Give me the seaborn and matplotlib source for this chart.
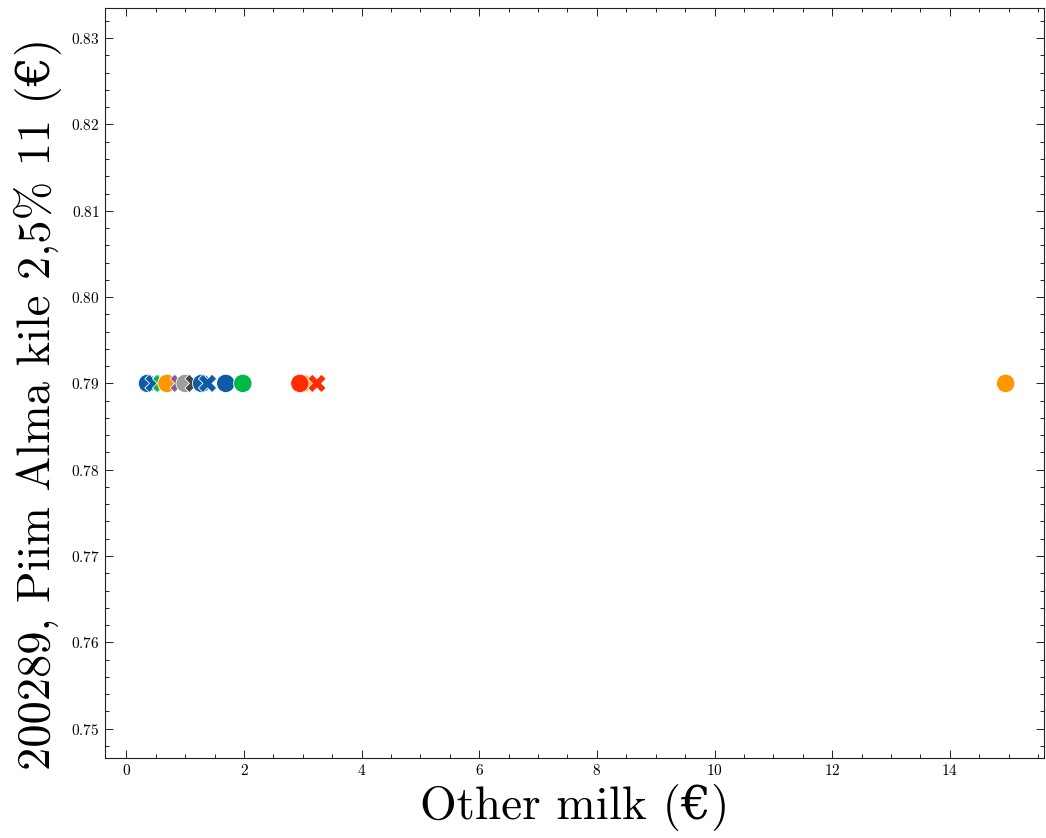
import pandas as pd
import matplotlib.pyplot as plt
import seaborn as sns
from matplotlib.ticker import AutoMinorLocator

# Prices (one product vs. other milk products)
other_price = [0.36, 0.47, 0.60, 0.69, 0.90, 1.00, 1.15, 1.28, 1.38, 1.69, 1.98, 3.00, 2.95, 3.24, 14.95]
alma_price = [0.79] * len(other_price)
store = ['A', 'A', 'B', 'C', 'E', 'G', 'F', 'A', 'A', 'A', 'B', 'C', 'D', 'D', 'C']
kind = ['o', 'x', 'x', 'o', 'x', 'o', 'x', 'o', 'x', 'o', 'o', 'o', 'o', 'x', 'o']

store_colors = {'A': '#0C5DA5', 'B': '#00B945', 'C': '#FF9500', 'D': '#FF2C00',
                'E': '#845B97', 'F': '#474747', 'G': '#9e9e9e'}


def main():
    df = pd.DataFrame({'other': other_price, 'alma': alma_price,
                       'store': store, 'kind': kind})

    sns.set_style('ticks')
    plt.rcParams['font.family'] = ['cmr10', 'DejaVu Serif']
    plt.rcParams['axes.formatter.use_mathtext'] = True
    plt.rcParams['mathtext.fontset'] = 'cm'
    plt.rcParams['text.color'] = 'black'
    plt.rcParams['axes.labelcolor'] = 'black'
    plt.rcParams['xtick.color'] = 'black'
    plt.rcParams['ytick.color'] = 'black'

    fig = plt.figure(figsize=(10.46, 8.38), dpi=100)
    ax = fig.add_axes([0.100, 0.095, 0.898, 0.895])

    sns.scatterplot(data=df, x='other', y='alma', hue='store', style='kind',
                    palette=store_colors, markers={'o': 'o', 'x': 'X'},
                    s=175, edgecolor='white', linewidth=0.6, legend=False, ax=ax)

    ax.set_xlim(-0.37, 15.6)
    ax.set_xlabel('Other milk (€)', fontsize=34)
    ax.set_ylabel('200289, Piim Alma kile 2,5% 11 (€)', fontsize=33.5)
    ax.yaxis.set_label_coords(-0.045, 0.472)

    ax.xaxis.set_minor_locator(AutoMinorLocator(4))
    ax.yaxis.set_minor_locator(AutoMinorLocator(5))
    ax.tick_params(which='both', direction='in', top=True, right=True,
                   labelsize=11, color='#222222', width=0.7)
    ax.tick_params(which='major', length=6)
    ax.tick_params(which='minor', length=3)
    for sp in ax.spines.values():
        sp.set_linewidth(0.8)
        sp.set_color('#222222')

    fig.savefig('out.png', dpi=100)


if __name__ == '__main__':
    main()
